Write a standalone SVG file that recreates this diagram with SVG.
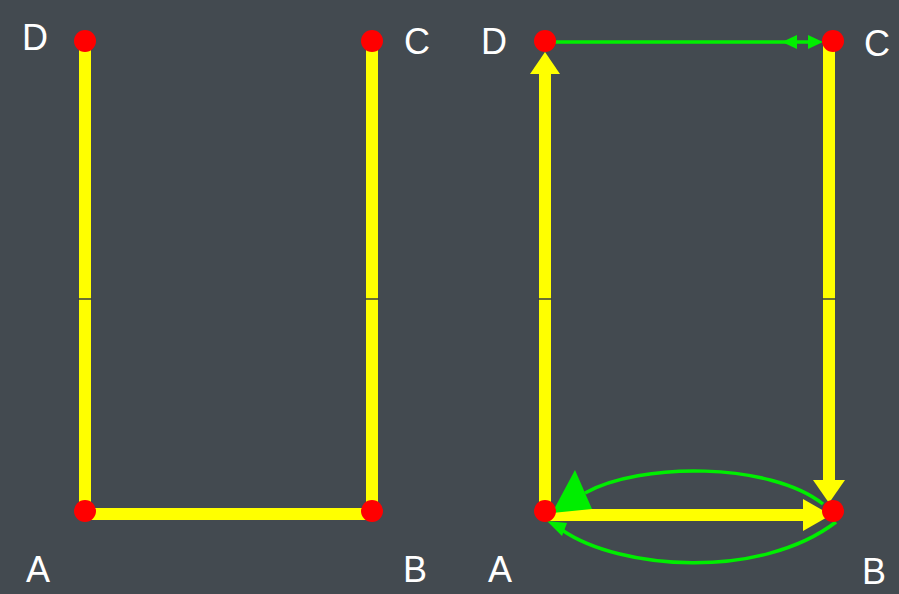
<svg xmlns="http://www.w3.org/2000/svg" width="899" height="594" viewBox="0 0 899 594">
<defs>
<style>
.y{stroke:#ffff00;stroke-width:12;fill:none}
.g{stroke:#00ee00;stroke-width:3.5;fill:none}
.ya{fill:#ffff00}
.ga{fill:#00ee00}
.pt{fill:#ff0000}
.lb{font-family:"Liberation Sans",sans-serif;font-size:36px;fill:#ffffff;text-anchor:middle}
.tick{stroke:#3a3f44;stroke-width:1.5}
</style>
</defs>
<rect width="899" height="594" fill="#434a50"/>
<g id="connectors">
<line class="y" x1="85" y1="41" x2="85" y2="514"/>
<line class="y" x1="372" y1="41" x2="372" y2="514"/>
<line class="y" x1="85" y1="514" x2="372" y2="514"/>
<line class="tick" x1="78" y1="299" x2="92" y2="299"/>
<line class="tick" x1="365" y1="299" x2="379" y2="299"/>
<line class="y" x1="545" y1="72" x2="545" y2="514"/>
<polygon class="ya" points="545,52 530,74 560,74"/>
<line class="y" x1="829" y1="41" x2="829" y2="482"/>
<polygon class="ya" points="829,503 813,480 845,480"/>
<line class="y" x1="545" y1="515" x2="806" y2="515"/>
<polygon class="ya" points="831,515 803,499 803,531"/>
<line class="tick" x1="538" y1="299" x2="552" y2="299"/>
<line class="tick" x1="822" y1="299" x2="836" y2="299"/>
<line class="g" x1="541" y1="42" x2="818" y2="42"/>
<polygon class="ga" points="782,42 797,35 797,49"/>
<polygon class="ga" points="823,42 808,35 808,49"/>
<path class="g" d="M823,504 C770,462 640,462 585,493"/>
<polygon class="ga" points="552,513 575,470 592,509"/>
<path class="g" d="M836,522 C760,580 620,570 562,530"/>
<polygon class="ga" points="547,521 562,536 567,523"/>
</g>
<g id="A1"><circle class="pt" cx="85" cy="511" r="11"/><text class="lb" x="38" y="582">A</text></g>
<g id="B1"><circle class="pt" cx="372" cy="511" r="11"/><text class="lb" x="415" y="582">B</text></g>
<g id="C1"><circle class="pt" cx="372" cy="41" r="11"/><text class="lb" x="417" y="54">C</text></g>
<g id="D1"><circle class="pt" cx="85" cy="41" r="11"/><text class="lb" x="35" y="50">D</text></g>
<g id="A2"><circle class="pt" cx="545" cy="511" r="11"/><text class="lb" x="500" y="582">A</text></g>
<g id="B2"><circle class="pt" cx="833" cy="511" r="11"/><text class="lb" x="874" y="584">B</text></g>
<g id="C2"><circle class="pt" cx="833" cy="41" r="11"/><text class="lb" x="877" y="56">C</text></g>
<g id="D2"><circle class="pt" cx="545" cy="41" r="11"/><text class="lb" x="494" y="54">D</text></g>
</svg>
